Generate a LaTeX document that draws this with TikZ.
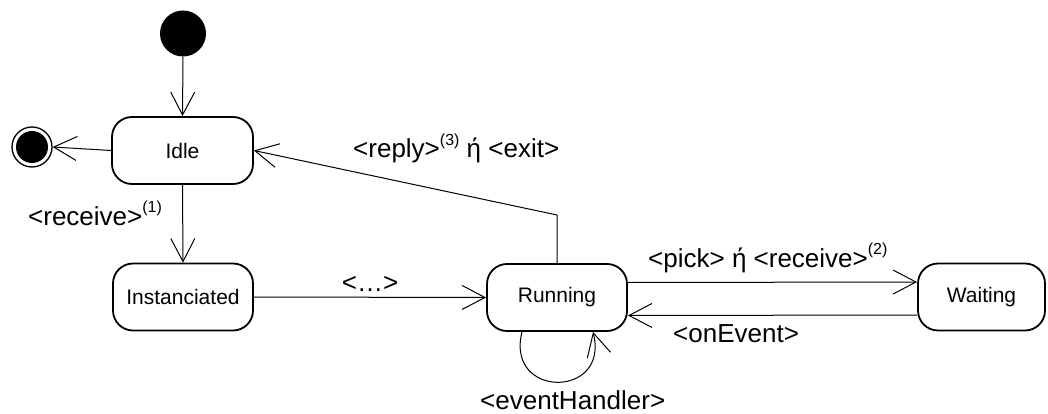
\documentclass[tikz,border=0pt]{standalone}
\usepackage{fontspec}
\setmainfont{Liberation Sans}
\usetikzlibrary{arrows.meta}
\newcommand{\supx}[1]{\raisebox{13pt}{\fontsize{16}{16}\selectfont #1}}
\begin{document}
\begin{tikzpicture}[x=1pt,y=-1pt,
  state/.style={draw, line width=1.8pt, rounded corners=20pt, minimum height=67pt, inner sep=0pt, font=\fontsize{21}{24}\selectfont},
  conn/.style={line width=1pt, -{Straight Barb[length=23pt,width=24pt,line width=1pt]}},
  lbl/.style={inner sep=0pt, font=\fontsize{26}{30}\selectfont}]
\useasboundingbox (0,0) rectangle (1048,414);
\node[circle, fill=black, minimum size=46pt, inner sep=0pt] (init) at (183,33.5) {};
\node[circle, draw, line width=1.3pt, minimum size=40pt, inner sep=0pt] (final) at (32,147) {};
\fill (final.center) circle (16pt);
\node[state, minimum width=141pt] (idle) at (182.5,150.5) {Idle};
\node[state, minimum width=140pt] (inst) at (183,297) {Instanciated};
\node[state, minimum width=140pt] (run) at (557,297.5) {Running};
\node[state, minimum width=127pt] (wait) at (981.5,297) {Waiting};
\coordinate (bend) at (557,215);
\draw[conn] (init.south) -- (idle.north);
\draw[conn] (idle.west) -- (final.east);
\draw[conn] (idle.south) -- (inst.north);
\draw[conn] (inst.east) -- (run.west);
\draw[conn] (run.north) -- (bend) -- (idle.east);
\draw[conn] ([yshift=15pt]run.east) -- ([yshift=15pt]wait.west);
\draw[conn] ([yshift=-18pt]wait.west) -- ([yshift=-18pt]run.east);
\draw[conn] ([xshift=-35pt]run.south) .. controls +(-17,67) and +(17,67) .. ([xshift=36pt]run.south);
\node[lbl, anchor=base west] (lreceive) at (28,225) {<receive>\supx{(1)}};
\node[lbl, anchor=base] (ldots) at (370,291) {<…>};
\node[lbl, anchor=base west] (lreply) at (353,158) {<reply>\supx{(3)} ή <exit>};
\node[lbl, anchor=base west] (lpick) at (648,267) {<pick> ή <receive>\supx{(2)}};
\node[lbl, anchor=base west] (lon) at (673,342) {<onEvent>};
\node[lbl, anchor=base west] (leh) at (480,409) {<eventHandler>};
\end{tikzpicture}
\end{document}
